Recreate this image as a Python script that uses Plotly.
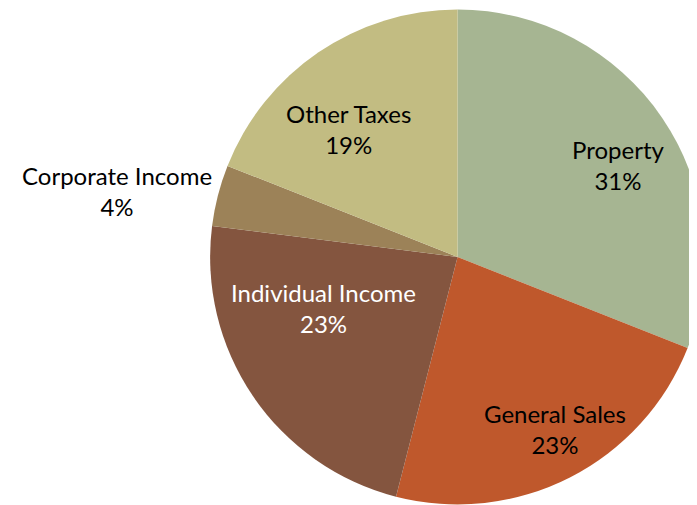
import math
import plotly.graph_objects as go

categories = ["Property", "General Sales", "Individual Income", "Corporate Income", "Other Taxes"]
shares = [31, 23, 23, 4, 19]
colors = ["#A6B592", "#BF582C", "#84553F", "#9C8258", "#C2BC82"]
text_colors = ["black", "black", "white", "black", "black"]
# label placement: distance from centre (fraction of radius) and position across the slice (0..1)
label_radius = [0.75, 0.80, 0.58, 1.40, 0.68]
label_along = [0.54, 0.47, 0.66, 0.26, 0.41]

W, H = 697, 505
dom_x = [0.29, 1.0]
dom_y = [0.017, 0.997]

fig = go.Figure(go.Pie(
    labels=categories,
    values=shares,
    sort=False,
    direction="clockwise",
    rotation=0,
    marker=dict(colors=colors, line=dict(width=0)),
    textinfo="none",
    domain=dict(x=dom_x, y=dom_y),
    hoverinfo="label+percent",
    showlegend=False,
))

# pie geometry in pixels, from the domain
cx = (dom_x[0] + dom_x[1]) / 2
cy = (dom_y[0] + dom_y[1]) / 2
r_px = min((dom_x[1] - dom_x[0]) * W, (dom_y[1] - dom_y[0]) * H) / 2

total = sum(shares)
cum = 0
for name, v, col, f, a in zip(categories, shares, text_colors, label_radius, label_along):
    ang = (cum + v * a) / total * 2 * math.pi
    cum += v
    x = cx + r_px * f * math.sin(ang) / W
    y = cy + r_px * f * math.cos(ang) / H
    fig.add_annotation(
        x=x, y=y, xref="paper", yref="paper",
        xanchor="center", yanchor="middle",
        text=f"{name}<br>{round(v / total * 100)}%",
        showarrow=False,
        font=dict(family="Lato", size=24, color=col),
        align="center",
    )

fig.update_layout(
    width=W,
    height=H,
    margin=dict(l=0, r=0, t=0, b=0),
    paper_bgcolor="white",
    plot_bgcolor="white",
)

fig.write_html("out.html")
